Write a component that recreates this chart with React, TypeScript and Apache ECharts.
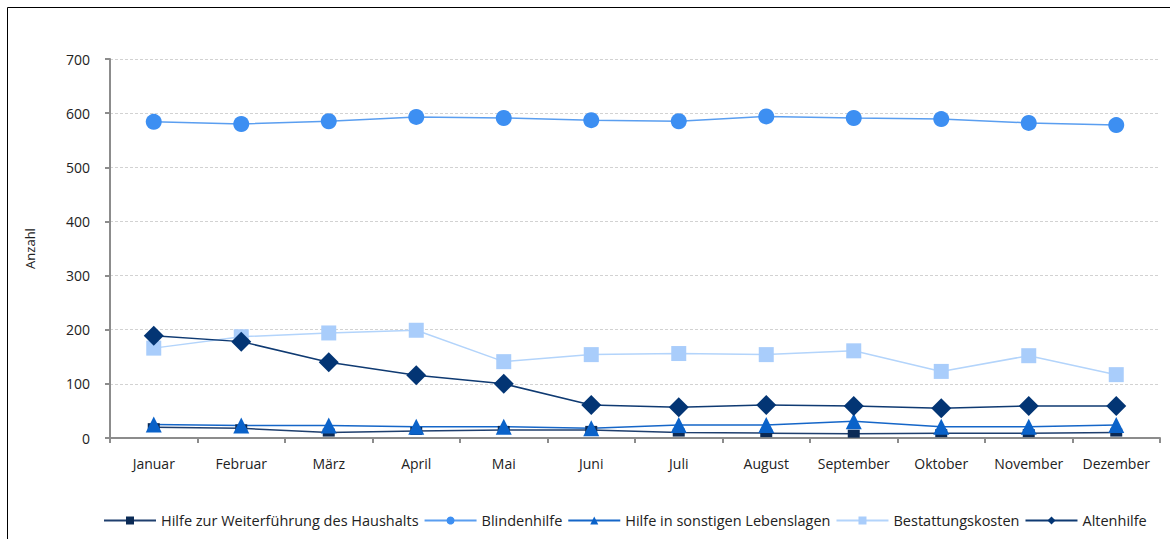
import React, { useEffect, useRef } from "react";
import * as echarts from "echarts";

const months = ["Januar", "Februar", "März", "April", "Mai", "Juni", "Juli", "August", "September", "Oktober", "November", "Dezember"];
const weiterfuehrung = [20, 18, 10, 13, 15, 15, 10, 9, 8, 9, 9, 10];
const blindenhilfe = [584, 580, 585, 593, 591, 587, 585, 594, 591, 589, 582, 578];
const sonstige = [25, 23, 23, 21, 21, 18, 24, 24, 31, 21, 21, 24];
const bestattung = [166, 187, 194, 199, 141, 154, 156, 154, 161, 123, 152, 117];
const altenhilfe = [189, 178, 140, 116, 100, 61, 57, 61, 59, 55, 59, 59];

const FONT = "'Open Sans', 'Noto Sans', sans-serif";

export default function App() {
  const ref = useRef<HTMLDivElement>(null);
  useEffect(() => {
    if (!ref.current) return;
    const chart = echarts.init(ref.current, undefined, { renderer: "svg" });
    const mk = (name: string, data: number[], lineColor: string, markerColor: string, symbol: string, size: any) => ({
      name,
      type: "line",
      data,
      symbol,
      symbolSize: size,
      showAllSymbol: true,
      lineStyle: { color: lineColor, width: 1.5 },
      itemStyle: { color: markerColor },
      emphasis: { disabled: true },
    });
    chart.setOption({
      animation: false,
      backgroundColor: "#ffffff",
      textStyle: { fontFamily: FONT },
      graphic: [
        {
          type: "rect",
          shape: { x: 7.5, y: 7.5, width: 1200, height: 600 },
          style: { fill: "none", stroke: "#000", lineWidth: 1 },
          silent: true,
        },
      ],
      grid: { left: 110, right: 10, top: 59, bottom: 101, containLabel: false },
      legend: {
        bottom: 6,
        left: 98,
        width: 1100,
        itemWidth: 52,
        itemHeight: 10,
        itemGap: 5,
        textStyle: { fontFamily: FONT, fontSize: 14.5, color: "#222" },
        data: ["Hilfe zur Weiterführung des Haushalts", "Blindenhilfe", "Hilfe in sonstigen Lebenslagen", "Bestattungskosten", "Altenhilfe"],
      },
      xAxis: {
        type: "category",
        data: months,
        boundaryGap: true,
        axisLine: { lineStyle: { color: "#8c8c8c", width: 2 } },
        axisTick: { show: true, length: 5, interval: 0, lineStyle: { color: "#8c8c8c", width: 2 } },
        axisLabel: { color: "#222", fontSize: 14, margin: 18, interval: 0, fontFamily: FONT },
      },
      yAxis: {
        type: "value",
        min: 0,
        max: 700,
        interval: 100,
        name: "Anzahl",
        nameLocation: "middle",
        nameGap: 74,
        nameRotate: 90,
        nameTextStyle: { color: "#222", fontSize: 13, fontFamily: FONT },
        axisLine: { show: true, lineStyle: { color: "#8c8c8c", width: 2 } },
        axisTick: { show: true, length: 5, lineStyle: { color: "#8c8c8c", width: 2 } },
        axisLabel: { color: "#222", fontSize: 14, margin: 20, fontFamily: FONT },
        splitLine: { lineStyle: { color: "#d2d2d2", type: [3, 2], width: 1 } },
      },
      series: [
        mk("Hilfe zur Weiterführung des Haushalts", weiterfuehrung, "#1f3f6e", "#0b2a55", "rect", [12, 8]),
        mk("Blindenhilfe", blindenhilfe, "#5a9ef0", "#3d8ff2", "circle", 16),
        mk("Hilfe in sonstigen Lebenslagen", sonstige, "#1566c8", "#0a62c9", "triangle", 16),
        mk("Bestattungskosten", bestattung, "#b3d4fb", "#a9cdfb", "rect", 15),
        mk("Altenhilfe", altenhilfe, "#0f3a72", "#033574", "diamond", 20),
      ],
    });
    return () => chart.dispose();
  }, []);
  return <div ref={ref} style={{ position: "fixed", left: 0, top: 0, width: 1170, height: 539 }} />;
}
